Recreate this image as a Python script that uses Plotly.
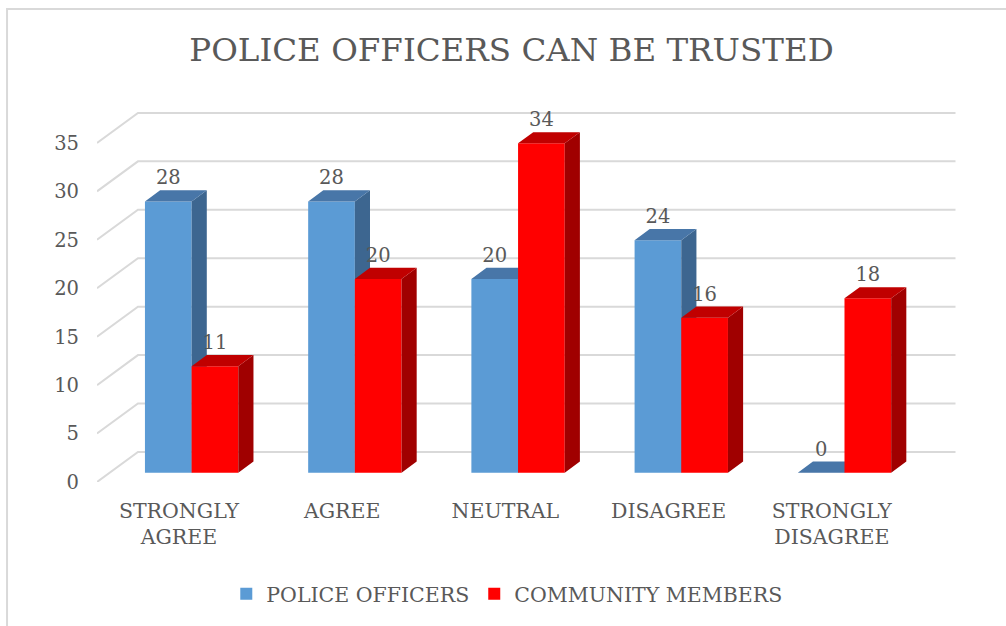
import plotly.graph_objects as go

# ---- data -------------------------------------------------------------
categories = ["STRONGLY<br>AGREE", "AGREE", "NEUTRAL", "DISAGREE", "STRONGLY<br>DISAGREE"]
police_officers = [28, 28, 20, 24, 0]
community_members = [11, 20, 34, 16, 18]
y_ticks = [0, 5, 10, 15, 20, 25, 30, 35]

# ---- 3-D projection helpers (in axis units) ----------------------------
DX, DY = 0.251, 3.097      # shift from front edge of the floor to the back wall
Z0, Z1 = 0.31, 0.68        # depth band occupied by the bars
BAR_W = 0.286              # width of one bar
X_LEFT, X_RIGHT = -0.502, 4.507
X_RANGE = [-0.502, 5.0]
Y_RANGE = [0, 39.43]

FONT = "DejaVu Serif"
TEXT = "#595959"
GRID = "#D9D9D9"
NUM_SIZE = 19.5
WORD_SIZE = 20.5

series = [
    ("POLICE OFFICERS", police_officers, -BAR_W, "#5B9BD5", "#4876A8", "#3D6690"),
    ("COMMUNITY MEMBERS", community_members, 0.0, "#FF0000", "#C00000", "#A00000"),
]

fig = go.Figure()

# back-wall and side-wall gridlines
gx, gy = [], []
for v in y_ticks:
    gx += [X_LEFT, X_LEFT + DX, X_RIGHT + DX, None]
    gy += [v, v + DY, v + DY, None]
fig.add_trace(go.Scatter(x=gx, y=gy, mode="lines", line=dict(color=GRID, width=2),
                         hoverinfo="skip", showlegend=False, xaxis="x", yaxis="y"))

ddx, ddy = (Z1 - Z0) * DX, (Z1 - Z0) * DY
base = Z0 * DY
labels_x, labels_y, labels_t = [], [], []

for k, (name, vals, off, front, top, side) in enumerate(series):
    xa, ya = f"x{k + 2}", f"y{k + 2}"
    sx, sy, tx, ty = [], [], [], []
    for i, v in enumerate(vals):
        xl = i + off + Z0 * DX
        xr = xl + BAR_W
        h = v + base
        # right side face
        sx += [xr, xr, xr + ddx, xr + ddx, xr, None]
        sy += [base, h, h + ddy, base + ddy, base, None]
        # top face
        tx += [xl, xr, xr + ddx, xl + ddx, xl, None]
        ty += [h, h, h + ddy, h + ddy, h, None]
        labels_x.append(xl + BAR_W / 2)
        labels_y.append(h + 2.27)
        labels_t.append(str(v))
    fig.add_trace(go.Bar(x=list(range(len(vals))), y=vals, base=base, width=BAR_W,
                         offset=off + Z0 * DX, name=name,
                         marker=dict(color=front, line=dict(width=0)),
                         hoverinfo="skip", xaxis=xa, yaxis=ya))
    fig.add_trace(go.Scatter(x=sx, y=sy, mode="lines", fill="toself", fillcolor=side,
                             line=dict(width=0, color=side), hoverinfo="skip",
                             showlegend=False, xaxis=xa, yaxis=ya))
    fig.add_trace(go.Scatter(x=tx, y=ty, mode="lines", fill="toself", fillcolor=top,
                             line=dict(width=0, color=top), hoverinfo="skip",
                             showlegend=False, xaxis=xa, yaxis=ya))

# value labels above the bars
fig.add_trace(go.Scatter(x=labels_x, y=labels_y, text=labels_t, mode="text",
                         textposition="middle center",
                         textfont=dict(family=FONT, size=NUM_SIZE, color=TEXT),
                         hoverinfo="skip", showlegend=False, xaxis="x3", yaxis="y3"))

W, H = 1006, 626
ML, MT, MB = 97, 100, 144
MR = W - ML - (X_RANGE[1] - X_RANGE[0]) * 163.3
plot_w = W - ML - MR
plot_h = H - MT - MB

hidden_x = dict(range=X_RANGE, visible=False, fixedrange=True)
hidden_y = dict(range=Y_RANGE, visible=False, fixedrange=True)

fig.update_layout(
    width=W, height=H,
    margin=dict(l=ML, r=MR, t=MT, b=MB),
    paper_bgcolor="white", plot_bgcolor="rgba(0,0,0,0)",
    font=dict(family=FONT, color=TEXT),
    barmode="overlay",
    title=dict(text="POLICE OFFICERS CAN BE TRUSTED", x=511.5 / W, xanchor="center",
               xref="container", yref="container", y=1 - 38 / H, yanchor="top",
               font=dict(family=FONT, size=32.5, color=TEXT)),
    xaxis=dict(range=X_RANGE, tickvals=list(range(len(categories))), ticktext=categories,
               showgrid=False, zeroline=False, showline=False, ticks="",
               ticklabelstandoff=14, fixedrange=True,
               tickfont=dict(family=FONT, size=WORD_SIZE, color=TEXT)),
    yaxis=dict(range=Y_RANGE, tickvals=y_ticks, showgrid=False, zeroline=False,
               showline=False, ticks="", ticklabelstandoff=17, fixedrange=True,
               tickfont=dict(family=FONT, size=NUM_SIZE, color=TEXT)),
    xaxis2=dict(hidden_x, overlaying="x"), yaxis2=dict(hidden_y, overlaying="y"),
    xaxis3=dict(hidden_x, overlaying="x"), yaxis3=dict(hidden_y, overlaying="y"),
    legend=dict(orientation="h", x=(507 - ML) / plot_w, xanchor="center",
                y=-(594 - (H - MB)) / plot_h, yanchor="middle",
                font=dict(family=FONT, size=WORD_SIZE, color=TEXT),
                itemclick=False, itemdoubleclick=False),
    shapes=[dict(type="rect", xref="paper", yref="paper",
                 x0=(7 - ML) / plot_w, x1=(W + 20 - ML) / plot_w,
                 y0=-(H + 20 - (H - MB)) / plot_h, y1=((H - MB) - 9) / plot_h,
                 line=dict(color=GRID, width=2), layer="below")],
)

fig.write_html("out.html", config={"displayModeBar": False})
